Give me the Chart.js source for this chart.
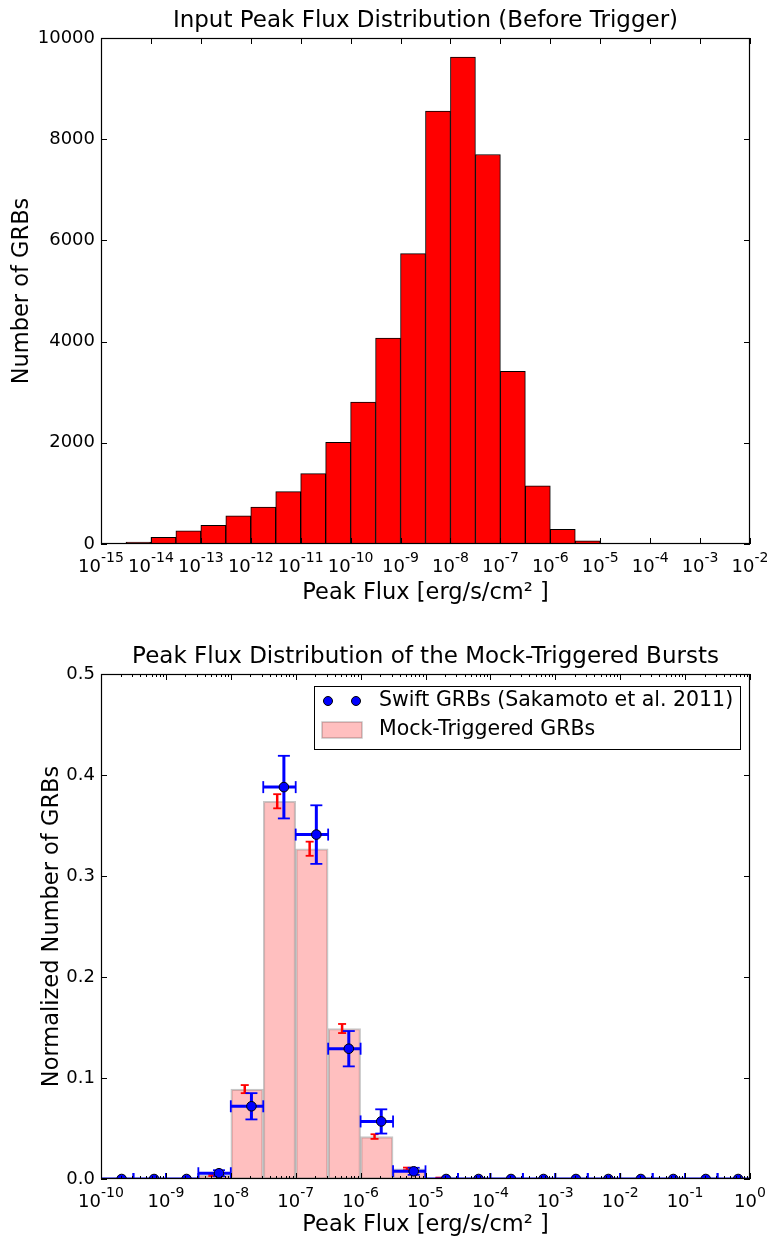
<!DOCTYPE html>
<html>
<head>
<meta charset="utf-8">
<title>Peak Flux Distributions</title>
<script src="https://cdn.jsdelivr.net/npm/chart.js@4.4.1/dist/chart.umd.min.js"></script>
<style>
  html, body { margin: 0; padding: 0; background: #fff; }
  canvas { display: block; }
</style>
</head>
<body>
<canvas id="inputChart" width="770" height="620"></canvas>
<canvas id="mockChart" width="770" height="619"></canvas>
<script>
// ============================================
// DATA (log10 of peak flux for bin edges / positions)
// ============================================

// Top panel: input peak flux histogram
const inputBinLo = [-15, -14.5, -14, -13.5, -13, -12.5, -12, -11.5, -11, -10.5, -10, -9.5, -9,
                    -8.5, -8, -7.5, -7, -6.5, -6, -5.5, -5, -4.5, -4, -3.5, -3, -2.5];
const inputCounts = [4, 40, 132, 258, 368, 558, 728, 1036, 1392, 2008, 2804, 4070, 5740,
                     8556, 9622, 7698, 3410, 1152, 288, 62, 10, 4, 1, 0, 0, 0];
const inputTicks = [-15, -14, -13, -12, -11, -10, -9, -8, -7, -6, -5, -4, -3, -2];
const countTicks = [0, 2000, 4000, 6000, 8000, 10000];

// Bottom panel: mock-triggered histogram + Swift comparison
const mockBinLo = [-10, -9.5, -9, -8.5, -8, -7.5, -7, -6.5, -6, -5.5, -5, -4.5, -4, -3.5,
                   -3, -2.5, -2, -1.5, -1, -0.5];
const mockFrac = [0, 0, 0, 0.004, 0.089, 0.374, 0.327, 0.149, 0.042, 0.010, 0.001, 0, 0, 0,
                  0, 0, 0, 0, 0, 0];
const mockErr = [0, 0, 0, 0.001, 0.004, 0.007, 0.007, 0.0045, 0.0023, 0.0013, 0.0004, 0, 0, 0,
                 0, 0, 0, 0, 0, 0];
const mockX = [-9.785, -9.285, -8.785, -8.285, -7.785, -7.285, -6.785, -6.285, -5.785, -5.285,
               -4.785, -4.285, -3.785, -3.285, -2.785, -2.285, -1.785, -1.285, -0.785, -0.285];
const swiftX = [-9.682, -9.182, -8.682, -8.182, -7.682, -7.182, -6.682, -6.182, -5.682, -5.182,
                -4.682, -4.182, -3.682, -3.182, -2.682, -2.182, -1.682, -1.182, -0.682, -0.182];
const swiftFrac = [0, 0, 0, 0.0057, 0.072, 0.388, 0.341, 0.129, 0.057, 0.0076, 0, 0, 0, 0,
                   0, 0, 0, 0, 0, 0];
const swiftErr = [0, 0, 0, 0.003, 0.013, 0.031, 0.029, 0.0175, 0.012, 0.0035, 0, 0, 0, 0,
                  0, 0, 0, 0, 0, 0];
const fluxTicks = [-10, -9, -8, -7, -6, -5, -4, -3, -2, -1, 0];
const fracTicks = [0, 0.1, 0.2, 0.3, 0.4, 0.5];
const legendLabels = ['Swift GRBs (Sakamoto et al. 2011)', 'Mock-Triggered GRBs'];

const BIN_WIDTH = 0.5;
const FONT = 'DejaVu Sans';
const TITLE_SIZE = 23;
const LABEL_SIZE = 22.5;
const TICK_SIZE = 18;
const EXP_SIZE = 14;
const LEGEND_SIZE = 20.5;

Chart.defaults.font.family = FONT;
Chart.defaults.color = '#000';
Chart.defaults.animation = false;

// ============================================
// PLUGINS
// ============================================

// Frame + inward ticks (matplotlib style) + 10^n tick labels
const axesFrame = {
    id: 'axesFrame',
    afterDraw(chart, args, opts) {
        const { ctx, chartArea: a, scales: { x, y } } = chart;
        ctx.save();
        ctx.strokeStyle = '#000';
        ctx.lineWidth = 1;
        ctx.beginPath();
        const seg = (x1, y1, x2, y2) => { ctx.moveTo(x1, y1); ctx.lineTo(x2, y2); };
        const vTick = (v, len) => {
            const px = Math.round(x.getPixelForValue(v)) + 0.5;
            seg(px, a.bottom, px, a.bottom - len);
            seg(px, a.top, px, a.top + len);
        };
        x.ticks.forEach(t => vTick(t.value, 6));
        (opts.minor || []).forEach(v => vTick(v, 3));
        y.ticks.forEach(t => {
            const py = Math.round(y.getPixelForValue(t.value)) + 0.5;
            seg(a.left, py, a.left + 6, py);
            seg(a.right, py, a.right - 6, py);
        });
        ctx.stroke();
        ctx.lineWidth = 1.2;
        ctx.strokeRect(a.left + 0.5, a.top + 0.5, a.width - 1, a.height - 1);

        // Power-of-ten labels: "10" with a raised, smaller exponent
        ctx.fillStyle = '#000';
        ctx.textBaseline = 'alphabetic';
        ctx.textAlign = 'left';
        const base = a.bottom + 27.5;
        x.ticks.forEach(t => {
            const exp = String(t.value);
            ctx.font = TICK_SIZE + 'px "' + FONT + '"';
            const wBase = ctx.measureText('10').width;
            ctx.font = EXP_SIZE + 'px "' + FONT + '"';
            const wExp = ctx.measureText(exp).width;
            const left = x.getPixelForValue(t.value) - (wBase + wExp) / 2;
            ctx.font = TICK_SIZE + 'px "' + FONT + '"';
            ctx.fillText('10', left, base);
            ctx.font = EXP_SIZE + 'px "' + FONT + '"';
            ctx.fillText(exp, left + wBase, base - 10);
        });
        ctx.restore();
    }
};

// Error bars for the bottom panel, drawn under the Swift points
const errorBars = {
    id: 'errorBars',
    afterDatasetDraw(chart, args) {
        if (args.index !== 1) return;
        const { ctx, chartArea: a, scales: { x, y } } = chart;
        ctx.save();
        ctx.beginPath();
        ctx.rect(a.left, a.top, a.width, a.height);
        ctx.clip();

        const line = (x1, y1, x2, y2, w) => {
            ctx.lineWidth = w;
            ctx.beginPath();
            ctx.moveTo(x1, y1);
            ctx.lineTo(x2, y2);
            ctx.stroke();
        };

        // Mock-triggered (red, vertical only)
        ctx.strokeStyle = '#ff0000';
        mockX.forEach((lx, i) => {
            const px = x.getPixelForValue(lx);
            const top = y.getPixelForValue(mockFrac[i] + mockErr[i]);
            const bot = y.getPixelForValue(mockFrac[i] - mockErr[i]);
            line(px, top, px, bot, 2.5);
            line(px - 4, top, px + 4, top, 1.8);
            line(px - 4, bot, px + 4, bot, 1.8);
        });

        // Swift (blue, x spans the bin, y error)
        ctx.strokeStyle = '#0000ff';
        swiftX.forEach((lx, i) => {
            const px = x.getPixelForValue(lx);
            const py = y.getPixelForValue(swiftFrac[i]);
            const left = x.getPixelForValue(mockBinLo[i]);
            const right = x.getPixelForValue(mockBinLo[i] + BIN_WIDTH);
            const top = y.getPixelForValue(swiftFrac[i] + swiftErr[i]);
            const bot = y.getPixelForValue(swiftFrac[i] - swiftErr[i]);
            line(left, py, right, py, 3);
            line(left, py - 6, left, py + 6, 1.8);
            line(right, py - 6, right, py + 6, 1.8);
            line(px, top, px, bot, 3);
            line(px - 6, top, px + 6, top, 1.8);
            line(px - 6, bot, px + 6, bot, 1.8);
        });
        ctx.restore();
    }
};

// Legend box in the upper right of the bottom panel
const boxLegend = {
    id: 'boxLegend',
    afterDraw(chart) {
        const { ctx, chartArea: a } = chart;
        ctx.save();
        ctx.font = LEGEND_SIZE + 'px "' + FONT + '"';
        const textW = Math.max(...legendLabels.map(t => ctx.measureText(t).width));
        const right = a.right - 10;
        const top = a.top + 12;
        const w = Math.round(65 + textW + 7);
        const h = 63;
        const left = right - w;

        ctx.fillStyle = '#fff';
        ctx.fillRect(left, top, w, h);
        ctx.strokeStyle = '#000';
        ctx.lineWidth = 1;
        ctx.strokeRect(left + 0.5, top + 0.5, w, h);

        // Row 1: two markers
        const r1 = top + 15;
        [left + 14, left + 42].forEach(cx => {
            ctx.beginPath();
            ctx.arc(cx, r1, 4.5, 0, Math.PI * 2);
            ctx.fillStyle = '#0000ff';
            ctx.fill();
            ctx.strokeStyle = '#000';
            ctx.lineWidth = 1;
            ctx.stroke();
        });
        // Row 2: patch
        const r2 = top + 44;
        ctx.fillStyle = 'rgba(255,0,0,0.25)';
        ctx.fillRect(left + 8, r2 - 8, 40, 16);
        ctx.strokeStyle = 'rgba(0,0,0,0.22)';
        ctx.lineWidth = 1.5;
        ctx.strokeRect(left + 8, r2 - 8, 40, 16);

        ctx.fillStyle = '#000';
        ctx.textBaseline = 'middle';
        ctx.fillText(legendLabels[0], left + 65, r1);
        ctx.fillText(legendLabels[1], left + 65, r2);
        ctx.restore();
    }
};

// ============================================
// SHARED AXIS HELPERS
// ============================================
function fixWidth(w) {
    return scale => { scale.width = w; };
}
function fixHeight(h) {
    return scale => { scale.height = h; scale.paddingLeft = 0; scale.paddingRight = 0; };
}

document.addEventListener('DOMContentLoaded', () => {
    // 1. Input peak flux distribution
    new Chart(document.getElementById('inputChart'), {
        type: 'bar',
        data: {
            datasets: [{
                data: inputBinLo.map((lo, i) => ({ x: lo + BIN_WIDTH / 2, y: inputCounts[i] })),
                backgroundColor: '#ff0000',
                borderColor: '#000000',
                borderWidth: 1,
                borderSkipped: false,
                barPercentage: 1,
                categoryPercentage: 1
            }]
        },
        options: {
            responsive: false,
            layout: { padding: { left: 0, right: 20, top: 0, bottom: 0 } },
            plugins: {
                legend: { display: false },
                tooltip: { enabled: false },
                title: {
                    display: true,
                    fullSize: false,
                    text: 'Input Peak Flux Distribution (Before Trigger)',
                    font: { size: TITLE_SIZE, weight: 'normal' },
                    color: '#000',
                    padding: { top: 7, bottom: 3.4 }
                }
            },
            scales: {
                x: {
                    type: 'linear', min: -15, max: -2, offset: false,
                    grid: { display: false, drawTicks: false },
                    border: { display: false },
                    afterBuildTicks: s => { s.ticks = inputTicks.map(v => ({ value: v })); },
                    afterFit: fixHeight(76),
                    ticks: { display: false },
                    title: { display: true, text: 'Peak Flux [erg/s/cm\u00B2 ]', font: { size: LABEL_SIZE },
                             padding: { top: 0, bottom: 13 } }
                },
                y: {
                    min: 0, max: 10000,
                    grid: { display: false, drawTicks: false },
                    border: { display: false },
                    afterBuildTicks: s => { s.ticks = countTicks.map(v => ({ value: v })); },
                    afterFit: fixWidth(101),
                    ticks: { font: { size: TICK_SIZE }, padding: 6, callback: v => String(v) },
                    title: { display: true, text: 'Number of GRBs', font: { size: LABEL_SIZE },
                             padding: { top: 8.5, bottom: 0 } }
                }
            }
        },
        plugins: [axesFrame]
    });

    // 2. Mock-triggered bursts vs Swift
    const minorTicks = [];
    fluxTicks.slice(0, -1).forEach(d => {
        [2, 3, 4, 5, 6, 7, 8, 9].forEach(k => minorTicks.push(d + Math.log10(k)));
    });

    new Chart(document.getElementById('mockChart'), {
        type: 'bar',
        data: {
            datasets: [{
                type: 'scatter',
                data: swiftX.map((lx, i) => ({ x: lx, y: swiftFrac[i] })),
                pointRadius: 4.8,
                pointBackgroundColor: '#0000ff',
                pointBorderColor: '#000000',
                pointBorderWidth: 1,
                clip: 0
            }, {
                data: mockBinLo.map((lo, i) => ({ x: lo + BIN_WIDTH / 2, y: mockFrac[i] })),
                backgroundColor: 'rgba(255,0,0,0.25)',
                borderColor: 'rgba(0,0,0,0.22)',
                borderWidth: 1.5,
                borderSkipped: false,
                barPercentage: 1,
                categoryPercentage: 1
            }]
        },
        options: {
            responsive: false,
            layout: { padding: { left: 0, right: 20, top: 0, bottom: 0 } },
            plugins: {
                legend: { display: false },
                tooltip: { enabled: false },
                axesFrame: { minor: minorTicks },
                title: {
                    display: true,
                    fullSize: false,
                    text: 'Peak Flux Distribution of the Mock-Triggered Bursts',
                    font: { size: TITLE_SIZE, weight: 'normal' },
                    color: '#000',
                    padding: { top: 23, bottom: 3.4 }
                }
            },
            scales: {
                x: {
                    type: 'linear', min: -10, max: 0, offset: false,
                    grid: { display: false, drawTicks: false },
                    border: { display: false },
                    afterBuildTicks: s => { s.ticks = fluxTicks.map(v => ({ value: v })); },
                    afterFit: fixHeight(60),
                    ticks: { display: false },
                    title: { display: true, text: 'Peak Flux [erg/s/cm\u00B2 ]', font: { size: LABEL_SIZE },
                             padding: { top: 0, bottom: 0.5 } }
                },
                y: {
                    min: 0, max: 0.5,
                    grid: { display: false, drawTicks: false },
                    border: { display: false },
                    afterBuildTicks: s => { s.ticks = fracTicks.map(v => ({ value: v })); },
                    afterFit: fixWidth(101),
                    ticks: { font: { size: TICK_SIZE }, padding: 6, callback: v => v.toFixed(1) },
                    title: { display: true, text: 'Normalized Number of GRBs', font: { size: LABEL_SIZE },
                             padding: { top: 38.5, bottom: 0 } }
                }
            }
        },
        plugins: [errorBars, axesFrame, boxLegend]
    });
});
</script>
</body>
</html>
